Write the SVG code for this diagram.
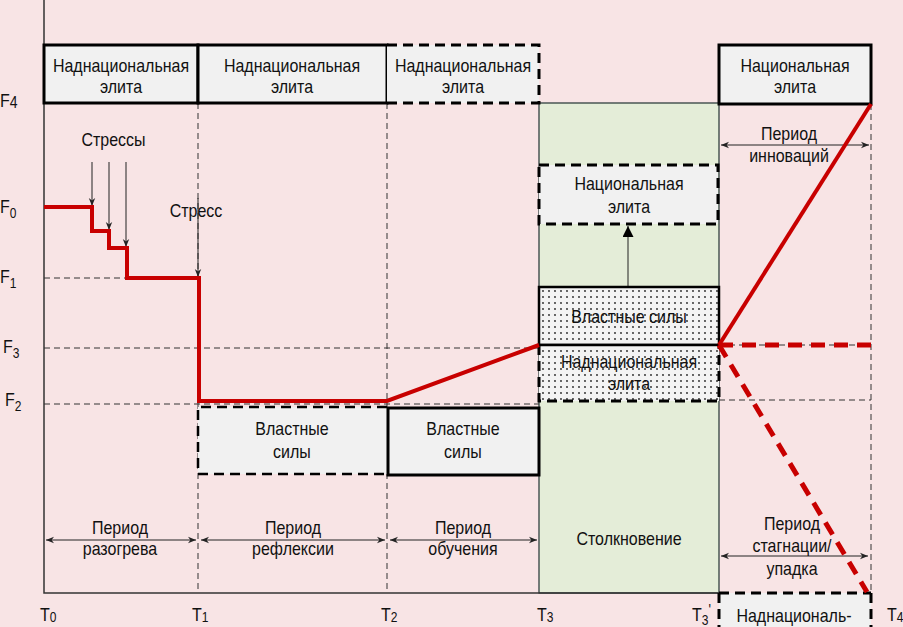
<svg xmlns="http://www.w3.org/2000/svg" width="903" height="627" viewBox="0 0 903 627">
<style>
.t{font-family:"Liberation Sans",Arial,sans-serif;font-size:16px;fill:#111;transform:scale(1,1.2);}
.m{text-anchor:middle;}
.box{fill:#f1f1f1;stroke:#000;stroke-width:3;}
.fill{fill:#f1f1f1;stroke:none;}
.dash3{fill:none;stroke:#000;stroke-width:3;stroke-dasharray:10 6;}
.thin{fill:none;stroke:#333;stroke-width:1;stroke-dasharray:6 4;}
.axis{fill:none;stroke:#333;stroke-width:1.5;}
.arr{fill:none;stroke:#222;stroke-width:1;}
.red{fill:none;stroke:#c80000;stroke-width:4;}
.redd{fill:none;stroke:#c80000;stroke-width:5;stroke-dasharray:14 9;}
</style>
<defs>
<marker id="ah" viewBox="0 0 10 10" refX="10" refY="5" markerWidth="8" markerHeight="8" markerUnits="userSpaceOnUse" orient="auto-start-reverse"><path d="M0,1 L10,5 L0,9 L3,5 z" fill="#222"/></marker>
<marker id="ahb" viewBox="0 0 10 10" refX="10" refY="5" markerWidth="11" markerHeight="11" markerUnits="userSpaceOnUse" orient="auto"><path d="M0,0 L10,5 L0,10 z" fill="#000"/></marker>
<pattern id="dots" width="6" height="6" patternUnits="userSpaceOnUse"><rect width="6" height="6" fill="#f3f3f3"/><circle cx="3" cy="3" r="0.9" fill="#222"/></pattern>
</defs>
<rect width="903" height="627" fill="#f8e4e5"/>

<g id="green-zone">
<rect x="539" y="103" width="180" height="490" fill="#e4edd8" stroke="#233" stroke-width="1.2"/>
<text class="t m" x="629" y="454.17">Столкновение</text>
</g>

<g id="connectors">
<path class="axis" d="M44,0 V593 H719"/>
<path class="thin" d="M198,103 V593 M387,103 V593 M871,104 V593 M44,278 H199 M44,348 H539 M719,345 H871 M44,404 H539 M719,400 H871"/>
<path class="arr" d="M92,162 V206" marker-end="url(#ah)"/>
<path class="arr" d="M109,162 V230" marker-end="url(#ah)"/>
<path class="arr" d="M126,162 V247" marker-end="url(#ah)"/>
<path class="arr" d="M198,198 V277" marker-end="url(#ah)"/>
<path class="arr" d="M46,540 H196" marker-start="url(#ah)" marker-end="url(#ah)"/>
<path class="arr" d="M201,540 H385" marker-start="url(#ah)" marker-end="url(#ah)"/>
<path class="arr" d="M390,540 H537" marker-start="url(#ah)" marker-end="url(#ah)"/>
<path class="arr" d="M721,145 H869" marker-start="url(#ah)" marker-end="url(#ah)"/>
<path class="arr" d="M721,556 H868" marker-start="url(#ah)" marker-end="url(#ah)"/>
<path class="arr" d="M628,287 V226" marker-end="url(#ahb)"/>
</g>

<g id="top1"><rect class="box" x="44" y="45" width="154" height="58"/><text class="t m" x="121" y="60">Наднациональная</text><text class="t m" x="121" y="77.5">элита</text></g>
<g id="top2"><rect class="box" x="198" y="45" width="189" height="58"/><text class="t m" x="292" y="60">Наднациональная</text><text class="t m" x="292" y="77.5">элита</text></g>
<g id="top3"><rect class="fill" x="387" y="45" width="152" height="58"/><path class="dash3" d="M387,45 H539 V103 H387"/><text class="t m" x="463" y="60">Наднациональная</text><text class="t m" x="463" y="77.5">элита</text></g>
<g id="top4"><rect class="box" x="719" y="45" width="152" height="59"/><text class="t m" x="795" y="60">Национальная</text><text class="t m" x="795" y="77.5">элита</text></g>

<g id="nat-elite-green"><rect class="fill" x="539" y="165" width="179" height="59"/><path class="dash3" d="M539,165 H718 V224 H539 Z"/><text class="t m" x="629" y="158.33">Национальная</text><text class="t m" x="629" y="177.5">элита</text></g>

<g id="power-dotted"><rect x="539" y="287" width="180" height="58" fill="url(#dots)" stroke="#000" stroke-width="2.5"/><text class="t m" x="629" y="269.17">Властные силы</text></g>
<g id="supra-dotted"><rect x="539" y="345" width="180" height="56" fill="url(#dots)"/><path class="dash3" d="M539,345 V401 H719 V345"/><path d="M539,345 H719" stroke="#000" stroke-width="2.5"/><text class="t m" x="629" y="306.67">Наднациональная</text><text class="t m" x="629" y="325">элита</text></g>

<g id="power1"><rect class="fill" x="198" y="407" width="189" height="67"/><path class="dash3" style="stroke-width:2.5" d="M387,407 H198 V474 H387"/><text class="t m" x="292" y="362.5">Властные</text><text class="t m" x="292" y="381.67">силы</text></g>
<g id="power2"><rect class="box" x="388" y="408" width="151" height="67"/><text class="t m" x="463" y="362.5">Властные</text><text class="t m" x="463" y="381.67">силы</text></g>

<g id="supra-bottom"><rect class="fill" x="719" y="593" width="152" height="40"/><path class="dash3" d="M719,593 H871 M719,593 V627 M871,593 V627"/><text class="t m" x="794" y="518.33">Наднациональ-</text></g>

<g id="red-curve">
<path class="red" d="M44,207 H92 V231 H109 V248 H127 V278 H199 V401 H387 L539,345"/>
<path class="red" d="M719,345 L871,104"/>
<path class="redd" d="M719,345 H871"/>
<path class="redd" d="M719,345 L867,592"/>
</g>

<g id="labels">
<text class="t m" x="113.5" y="121.67">Стрессы</text>
<text class="t m" x="196" y="180.83">Стресс</text>
<text class="t m" x="120" y="445">Период</text><text class="t m" x="120" y="462.5">разогрева</text>
<text class="t m" x="293" y="445">Период</text><text class="t m" x="293" y="462.5">рефлексии</text>
<text class="t m" x="463" y="445">Период</text><text class="t m" x="463" y="462.5">обучения</text>
<text class="t m" x="789" y="116.67">Период</text><text class="t m" x="789" y="135">инноваций</text>
<text class="t m" x="792" y="441.67">Период</text><text class="t m" x="792" y="460">стагнации/</text><text class="t m" x="792" y="479.17">упадка</text>
<text class="t" x="0" y="89.17">F<tspan font-size="14" dy="1">4</tspan></text>
<text class="t" x="0" y="177.5">F<tspan font-size="12" dy="4">0</tspan></text>
<text class="t" x="0" y="235.83">F<tspan font-size="12" dy="4">1</tspan></text>
<text class="t" x="3" y="294.17">F<tspan font-size="12" dy="4">3</tspan></text>
<text class="t" x="5" y="338.33">F<tspan font-size="12" dy="4">2</tspan></text>
<text class="t" x="40" y="517.5">T<tspan font-size="12" dy="1">0</tspan></text>
<text class="t" x="192" y="517.5">T<tspan font-size="12" dy="1">1</tspan></text>
<text class="t" x="381" y="517.5">T<tspan font-size="12" dy="1">2</tspan></text>
<text class="t" x="537" y="517.5">T<tspan font-size="12" dy="1">3</tspan></text>
<text class="t" x="692" y="517.5">T<tspan font-size="12" dy="3">3</tspan><tspan font-size="13" dy="-7">'</tspan></text>
<text class="t" x="887" y="517.5">T<tspan font-size="12" dy="1">4</tspan></text>
</g>
</svg>
